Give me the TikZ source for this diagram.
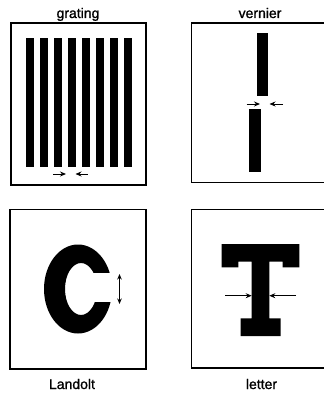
\documentclass[tikz,border=0pt]{standalone}
\usepackage{fontspec}
\setmainfont{Liberation Sans}
\newfontfamily\lblfont{Liberation Sans}[FakeBold=1.2]
\usetikzlibrary{arrows.meta}
\tikzset{
  frame/.style={line width=1.1pt, draw=black},
  barfill/.style={fill=black, draw=none},
  lbl/.style={font=\lblfont\fontsize{14}{16}\selectfont, anchor=base, inner sep=0pt},
  ptr/.style={line width=0.9pt, -{Stealth[length=6pt,width=5pt]}},
  dptr/.style={line width=0.9pt, {Stealth[length=5.5pt,width=4.5pt]}-{Stealth[length=5.5pt,width=4.5pt]}}
}
\begin{document}
\begin{tikzpicture}[x=1pt,y=-1pt]
\useasboundingbox (0,0) rectangle (323,395);
% ---------- frames ----------
\draw[frame] (11,23) rectangle (146,185);
\draw[frame] (330,23) -- (191.7,23) -- (191.7,182.7) -- (330,182.7);
\draw[frame] (10,209.3) rectangle (146,369);
\draw[frame] (330,209.3) -- (191.7,209.3) -- (191.7,368) -- (330,368);
% ---------- labels ----------
\node[lbl] (lgrating) at (78,18) {grating};
\node[lbl] (lvernier) at (260,18) {vernier};
\node[lbl] (llandolt) at (72,389) {Landolt};
\node[lbl] (lletter) at (261.5,389) {letter};
% ---------- grating ----------
\foreach \i in {0,...,7}{
  \fill[barfill] ({26+\i*13.95},38) rectangle ({34+\i*13.95},167);
}
\coordinate (ga1) at (53,174);
\coordinate (ga2) at (66,174);
\coordinate (gb1) at (87.5,174);
\coordinate (gb2) at (75.5,174);
\draw[ptr] (ga1) -- (ga2);
\draw[ptr] (gb1) -- (gb2);
% ---------- vernier ----------
\fill[barfill] (257.3,33) rectangle (268.3,96);
\fill[barfill] (249.3,109) rectangle (260.5,172);
\coordinate (va1) at (246.5,104);
\coordinate (va2) at (260,104);
\coordinate (vb1) at (283,104);
\coordinate (vb2) at (269.5,104);
\draw[ptr] (va1) -- (va2);
\draw[ptr] (vb1) -- (vb2);
% ---------- Landolt C ----------
\fill[black, even odd rule] (78,289) ellipse [x radius=34, y radius=44.5]
                             (81,289) ellipse [x radius=16, y radius=26];
\fill[white] (89,273) rectangle (116,302);
\coordinate (ca) at (119.5,274);
\coordinate (cb) at (119.5,304);
\draw[dptr] (ca) -- (cb);
% ---------- letter T ----------
\fill[barfill] (221.7,244) -- (299.3,244) -- (299.3,267.3) -- (282.7,267.3)
  -- (282.7,261.7) -- (269.3,261.7) -- (269.3,318.3) -- (280.7,318.3)
  -- (280.7,336) -- (240.7,336) -- (240.7,318.3) -- (251.7,318.3)
  -- (251.7,261.7) -- (238.3,261.7) -- (238.3,267.3) -- (221.7,267.3) -- cycle;
\coordinate (ta1) at (225,295.7);
\coordinate (ta2) at (251.7,295.7);
\coordinate (tb1) at (296,295.7);
\coordinate (tb2) at (269.3,295.7);
\draw[ptr] (ta1) -- (ta2);
\draw[ptr] (tb1) -- (tb2);
\end{tikzpicture}
\end{document}
